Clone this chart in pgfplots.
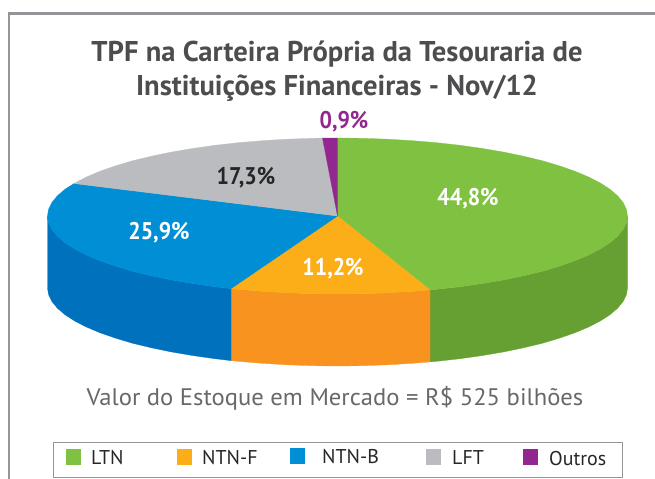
\documentclass[border=0pt]{standalone}
\usepackage{fontspec}
\setmainfont{PT Sans}
\usepackage{pgfplots}
\pgfplotsset{compat=1.18}
\definecolor{cltn}{HTML}{7FC241}
\definecolor{cltnS}{HTML}{66A033}
\definecolor{cntf}{HTML}{FBAE17}
\definecolor{cntfS}{HTML}{F7931E}
\definecolor{cntb}{HTML}{008FD5}
\definecolor{cntbS}{HTML}{0071BC}
\definecolor{clft}{HTML}{BBBCBF}
\definecolor{cout}{HTML}{92278F}
\definecolor{ctxt}{HTML}{4D4D4F}
\definecolor{cfrm}{HTML}{939598}
\begin{document}
\begin{tikzpicture}
\begin{axis}[
  scale only axis, width=655bp, height=479bp,
  xmin=0, xmax=655, ymin=0, ymax=479, y dir=reverse,
  axis lines=none, clip=true,
  every axis plot/.append style={line width=0.3pt},
]
\path (axis cs:0,0) rectangle (axis cs:655,479);
% frame
\addplot[cfrm, line width=2.4pt, no marks] coordinates {(9.2,479)(9.2,13.4)(655,13.4)};
% side walls
\addplot[fill=cltnS, draw=cltnS] coordinates {(627.5,216)(626.4,222.8)(623.1,229.5)(617.6,236.2)(610,242.7)(600.3,249)(588.6,255)(575.1,260.7)(559.6,266.1)(542.6,271.2)(523.9,275.7)(503.8,279.9)(482.5,283.5)(460.1,286.7)(436.7,289.3)(430,289.9)
 (430,361.9)(436.7,361.3)(460.1,358.7)(482.5,355.5)(503.8,351.9)(523.9,347.7)(542.6,343.2)(559.6,338.1)(575.1,332.7)(588.6,327)(600.3,321)(610,314.7)(617.6,308.2)(623.1,301.5)(626.4,294.8)(627.5,288)} --cycle;
\addplot[fill=cntfS, draw=cntfS] coordinates {(430,289.9)(412.6,291.3)(387.8,292.8)(362.8,293.7)(337.5,294)(312.2,293.7)(287.2,292.8)(262.4,291.3)(238.3,289.3)(231,288.6)
 (231,360.6)(238.3,361.3)(262.4,363.3)(287.2,364.8)(312.2,365.7)(337.5,366)(362.8,365.7)(387.8,364.8)(412.6,363.3)(430,361.9)} --cycle;
\addplot[fill=cntbS, draw=cntbS] coordinates {(231,288.6)(214.9,286.7)(192.5,283.5)(171.2,279.9)(151.1,275.7)(132.4,271.2)(115.4,266.1)(99.9,260.7)(86.4,255)(74.7,249)(65,242.7)(57.4,236.2)(51.9,229.5)(48.6,222.8)(47.5,216)
 (47.5,288)(48.6,294.8)(51.9,301.5)(57.4,308.2)(65,314.7)(74.7,321)(86.4,327)(99.9,332.7)(115.4,338.1)(132.4,343.2)(151.1,347.7)(171.2,351.9)(192.5,355.5)(214.9,358.7)(231,360.6)} --cycle;
% top faces
\addplot[fill=cltn, draw=cltn] coordinates {(337.5,216)(337.5,138)(362.8,138.3)(387.8,139.2)(412.6,140.7)(436.7,142.7)(460.1,145.3)(482.5,148.5)(503.8,152.1)(523.9,156.3)(542.6,160.8)(559.6,165.9)(575.1,171.3)(588.6,177)(600.3,183)(610,189.3)(617.6,195.8)(623.1,202.5)(626.4,209.2)(627.5,216)(626.4,222.8)(623.1,229.5)(617.6,236.2)(610,242.7)(600.3,249)(588.6,255)(575.1,260.7)(559.6,266.1)(542.6,271.2)(523.9,275.7)(503.8,279.9)(482.5,283.5)(460.1,286.7)(436.7,289.3)(430,289.9)} --cycle;
\addplot[fill=cntf, draw=cntf] coordinates {(337.5,216)(430,289.9)(412.6,291.3)(387.8,292.8)(362.8,293.7)(337.5,294)(312.2,293.7)(287.2,292.8)(262.4,291.3)(238.3,289.3)(231,288.6)} --cycle;
\addplot[fill=cntb, draw=cntb] coordinates {(337.5,216)(231,288.6)(214.9,286.7)(192.5,283.5)(171.2,279.9)(151.1,275.7)(132.4,271.2)(115.4,266.1)(99.9,260.7)(86.4,255)(74.7,249)(65,242.7)(57.4,236.2)(51.9,229.5)(48.6,222.8)(47.5,216)(48.6,209.2)(51.9,202.5)(57.4,195.8)(65,189.3)(74,183.5)} --cycle;
\addplot[fill=clft, draw=clft] coordinates {(337.5,216)(74,183.5)(86.4,177)(99.9,171.3)(115.4,165.9)(132.4,160.8)(151.1,156.3)(171.2,152.1)(192.5,148.5)(214.9,145.3)(238.3,142.7)(262.4,140.7)(287.2,139.2)(312.2,138.3)(322.5,138.1)} --cycle;
\addplot[fill=cout, draw=cout] coordinates {(337.5,216)(322.5,138.1)(337.5,138)} --cycle;
% legend box
\addplot[fill=white, draw=cfrm, line width=1pt] coordinates {(53,442)(622,442)(622,477)(53,477)} --cycle;
\addplot[fill=cltn, draw=none] coordinates {(66,449)(81,449)(81,465)(66,465)} --cycle;
\addplot[fill=cntf, draw=none] coordinates {(177,449)(192,449)(192,465)(177,465)} --cycle;
\addplot[fill=cntb, draw=none] coordinates {(290,448)(305,448)(305,464)(290,464)} --cycle;
\addplot[fill=clft, draw=none] coordinates {(426,449)(441,449)(441,465)(426,465)} --cycle;
\addplot[fill=cout, draw=none] coordinates {(523,449)(538,449)(538,465)(523,465)} --cycle;
% text
\node[text=ctxt, font=\fontsize{28.7}{29}\selectfont\bfseries] at (axis cs:337,54) {TPF na Carteira Própria da Tesouraria de};
\node[text=ctxt, font=\fontsize{28.7}{29}\selectfont\bfseries] at (axis cs:337,88) {Instituições Financeiras - Nov/12};
\node[text=cout, yscale=1.1, font=\fontsize{22}{22}\selectfont\bfseries] at (axis cs:344,122) {0,9\%};
\node[text=white, yscale=1.1, font=\fontsize{22}{22}\selectfont\bfseries] at (axis cs:468,199) {44,8\%};
\node[text=black!85, yscale=1.1, font=\fontsize{22}{22}\selectfont\bfseries] at (axis cs:246,178) {17,3\%};
\node[text=white, yscale=1.1, font=\fontsize{22}{22}\selectfont\bfseries] at (axis cs:159,233) {25,9\%};
\node[text=white, yscale=1.1, font=\fontsize{22}{22}\selectfont\bfseries] at (axis cs:333,269) {11,2\%};
\node[text=ctxt!85, xscale=1.03, font=\fontsize{24}{24}\selectfont] at (axis cs:335,398) {Valor do Estoque em Mercado = R\$ 525 bilhões};
\node[text=black!85, anchor=west, inner xsep=0pt, font=\fontsize{20}{20}\selectfont] at (axis cs:91,458) {LTN};
\node[text=black!85, anchor=west, inner xsep=0pt, font=\fontsize{20}{20}\selectfont] at (axis cs:202,458) {NTN-F};
\node[text=black!85, anchor=west, inner xsep=0pt, font=\fontsize{20}{20}\selectfont] at (axis cs:322,457) {NTN-B};
\node[text=black!85, anchor=west, inner xsep=0pt, font=\fontsize{20}{20}\selectfont] at (axis cs:452,458) {LFT};
\node[text=black!85, anchor=west, inner xsep=0pt, font=\fontsize{20}{20}\selectfont] at (axis cs:549,459) {Outros};
\end{axis}
\end{tikzpicture}
\end{document}
